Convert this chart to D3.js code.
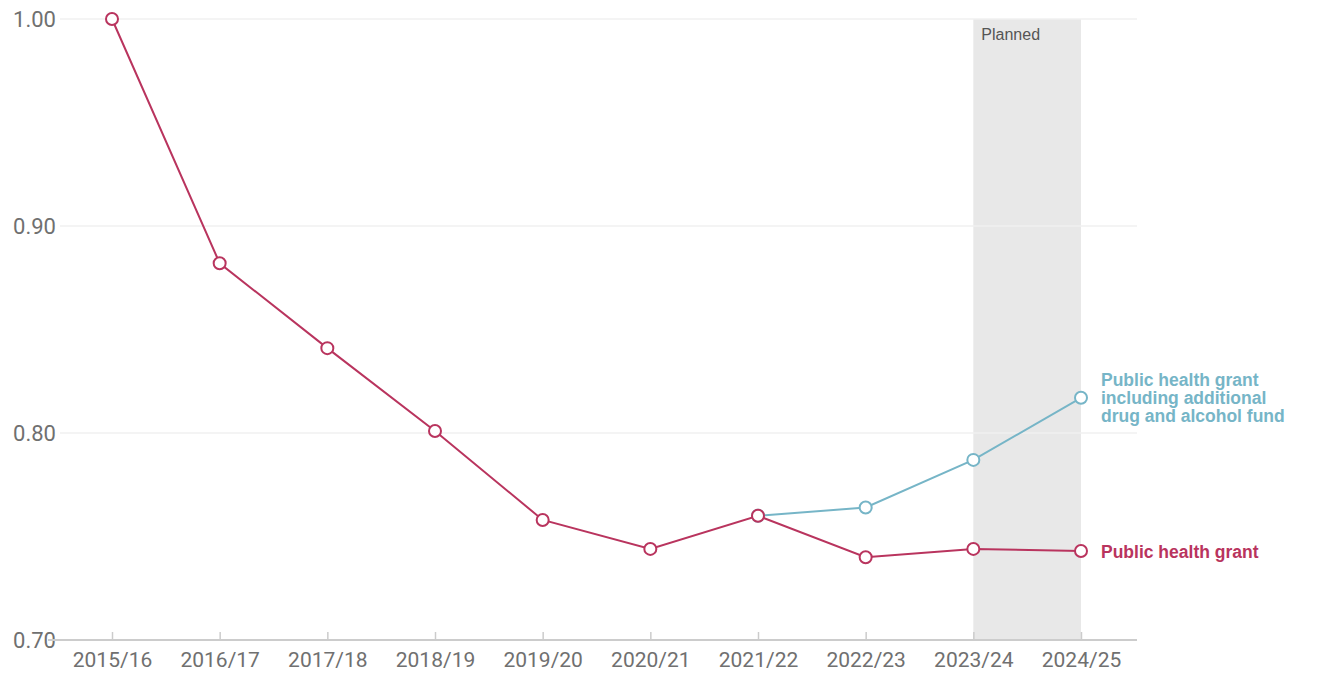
<!DOCTYPE html>
<meta charset="utf-8">
<head>
<style>
  body { margin: 0; background: #fff; }
  .axis text { font: 21px Roboto, "Liberation Sans", Arial, sans-serif; fill: #707070; }
  .axis path, .axis line { stroke: #ccc; }
</style>
</head>
<body>
<script src="https://cdn.jsdelivr.net/npm/d3@7"></script>
<script>
var years = ["2015/16", "2016/17", "2017/18", "2018/19", "2019/20", "2020/21", "2021/22", "2022/23", "2023/24", "2024/25"];
var grant = [1.000, 0.882, 0.841, 0.801, 0.758, 0.744, 0.760, 0.740, 0.744, 0.743];
var grantYears = years;
var withFund = [0.760, 0.764, 0.787, 0.817];
var withFundYears = ["2021/22", "2022/23", "2023/24", "2024/25"];
var yTicks = [0.70, 0.80, 0.90, 1.00];
var planned = ["2023/24", "2024/25"];

var w = 1320, h = 674;
var red = "#b9345e", blue = "#76b5c7";

var svg = d3.select("body").append("svg")
    .attr("width", w)
    .attr("height", h);

var x = d3.scalePoint().domain(years).range([112, 1081]);
var y = d3.scaleLinear().domain([0.70, 1.00]).range([640, 19]);

// planned band
svg.append("rect")
    .attr("x", x(planned[0]))
    .attr("y", y(1.00))
    .attr("width", x(planned[1]) - x(planned[0]))
    .attr("height", y(0.70) - y(1.00))
    .attr("fill", "#e8e8e8");
svg.append("text").text("Planned")
    .attr("x", x(planned[0]) + 8).attr("y", 40)
    .attr("font-family", "Liberation Sans, Arial, sans-serif")
    .attr("font-size", 16).attr("fill", "#555");

// gridlines
svg.selectAll("line.grid")
    .data(yTicks.slice(1))
    .enter().append("line")
    .attr("class", "grid")
    .attr("x1", 60).attr("x2", 1137)
    .attr("y1", function(d) { return y(d); })
    .attr("y2", function(d) { return y(d); })
    .attr("stroke", "#f0f0f0").attr("stroke-width", 1.5);

// y axis labels
svg.selectAll("text.ylab")
    .data(yTicks)
    .enter().append("text")
    .attr("class", "ylab")
    .attr("x", 56)
    .attr("y", function(d) { return y(d) + 8; })
    .attr("text-anchor", "end")
    .attr("font-family", "Roboto, Liberation Sans, Arial, sans-serif")
    .attr("font-size", 22).attr("fill", "#707070")
    .text(function(d) { return d.toFixed(2); });

// x axis
var xAxis = svg.append("g")
    .attr("class", "axis")
    .attr("transform", "translate(0," + y(0.70) + ")")
    .call(d3.axisBottom(x).tickSize(8).tickPadding(3));
xAxis.select(".domain").attr("d", "M48,0H1137").attr("stroke-width", 2);
xAxis.selectAll(".tick line").attr("y1", -8).attr("y2", 0).attr("stroke-width", 1.5);
xAxis.selectAll(".tick text").attr("dy", "0.78em");

var line = d3.line()
    .x(function(d) { return x(d[0]); })
    .y(function(d) { return y(d[1]); });

function drawSeries(ys, vals, color) {
    var pts = d3.zip(ys, vals);
    svg.append("path").datum(pts)
        .attr("d", line)
        .attr("fill", "none")
        .attr("stroke", color)
        .attr("stroke-width", 2);
    svg.selectAll(null).data(pts).enter().append("circle")
        .attr("cx", function(d) { return x(d[0]); })
        .attr("cy", function(d) { return y(d[1]); })
        .attr("r", 6)
        .attr("fill", "#fff")
        .attr("stroke", color)
        .attr("stroke-width", 2);
}

drawSeries(withFundYears, withFund, blue);
drawSeries(grantYears, grant, red);

// labels
var lab = svg.append("text")
    .attr("font-family", "Liberation Sans, Arial, sans-serif")
    .attr("font-weight", "bold").attr("font-size", 17.5)
    .attr("fill", blue);
["Public health grant", "including additional", "drug and alcohol fund"].forEach(function(t, i) {
    lab.append("tspan").attr("x", 1101).attr("y", y(withFund[3]) - 12 + i * 18).text(t);
});
svg.append("text").text("Public health grant")
    .attr("x", 1101).attr("y", y(grant[9]) + 7)
    .attr("font-family", "Liberation Sans, Arial, sans-serif")
    .attr("font-weight", "bold").attr("font-size", 17.5)
    .attr("fill", red);
</script>
</body>
